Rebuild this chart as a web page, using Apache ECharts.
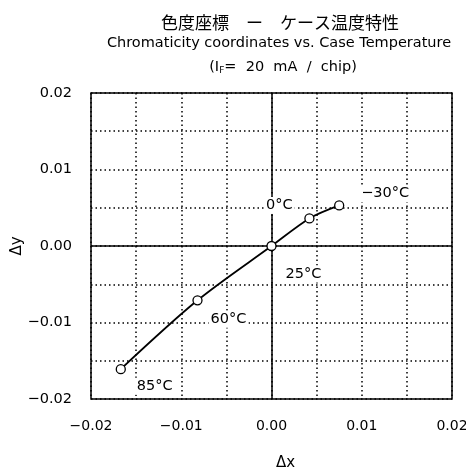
<!DOCTYPE html>
<html><head><meta charset="utf-8">
<script src="https://cdn.jsdelivr.net/npm/echarts@6/dist/echarts.min.js"></script>
<style>html,body{margin:0;padding:0;background:#fff}#c{width:466px;height:474px}</style>
</head><body><div id="c"></div>
<script>
var temps = ['85°C', '60°C', '25°C', '0°C', '−30°C'];
var dx = [-0.0167, -0.0082, 0.0000, 0.0042, 0.0075];
var dy = [-0.0161, -0.0071, 0.0000, 0.0036, 0.0053];
var xTicks = ['−0.02', '−0.01', '0.00', '0.01', '0.02'];
var yTicks = ['−0.02', '−0.01', '0.00', '0.01', '0.02'];

var labelOffsets = [[34, 17], [31, 19], [32, 28], [-30, -13], [46, -12]];
var F = '"DejaVu Sans", sans-serif';

function tickFmt(ticks) {
  return function (v) {
    var k = Math.round(v / 0.01);
    if (Math.abs(v - k * 0.01) > 1e-9) return '';
    return ticks[k + 2];
  };
}

var pts = dx.map(function (x, i) {
  return {
    value: [x, dy[i]],
    label: {
      show: true, formatter: temps[i], position: 'inside',
      offset: labelOffsets[i], color: '#000', fontSize: 14.5, fontFamily: F,
      backgroundColor: '#fff', padding: [1, 2]
    }
  };
});

var chart = echarts.init(document.getElementById('c'));
chart.setOption({
  animation: false,
  title: [
    { text: '色度座標　ー　ケース温度特性', left: 275, top: 9, textAlign: 'center',
      textStyle: { fontSize: 17, fontWeight: 'normal', fontFamily: '"Noto Sans CJK JP", sans-serif', color: '#000' } },
    { text: 'Chromaticity coordinates vs. Case Temperature', left: 274, top: 31, textAlign: 'center',
      textStyle: { fontSize: 14.5, fontWeight: 'normal', fontFamily: F, color: '#000' } },
    { text: '{n|(I}{s|F}{n|=  20  mA  /  chip)}', left: 278, top: 53, textAlign: 'center',
      textStyle: { fontWeight: 'normal', rich: {
        n: { fontSize: 14.5, fontWeight: 'normal', fontFamily: F, color: '#000', lineHeight: 18 },
        s: { fontSize: 9, fontWeight: 'normal', fontFamily: F, color: '#000', lineHeight: 18, padding: [7, 0, 0, 0] }
      } } }
  ],
  grid: { left: 91, right: 14, top: 93, bottom: 75, outerBoundsMode: 'none', containLabel: false,
          show: true, borderColor: '#000', borderWidth: 1.5, backgroundColor: 'transparent' },
  xAxis: {
    type: 'value', min: -0.02, max: 0.02, interval: 0.005,
    name: 'Δx', nameLocation: 'middle', nameGap: 57, nameMoveOverlap: false,
    nameTextStyle: { fontSize: 15, fontFamily: F, color: '#000', padding: [0, 0, 0, 28] },
    axisLine: { show: false }, axisTick: { show: false },
    axisLabel: { formatter: tickFmt(xTicks), fontSize: 14, fontFamily: F, color: '#000', margin: 20 },
    splitLine: { show: true, lineStyle: { color: '#000', type: [1.5, 3], width: 1.5 } }
  },
  yAxis: {
    type: 'value', min: -0.02, max: 0.02, interval: 0.005,
    name: 'Δy', nameLocation: 'middle', nameGap: 66, nameMoveOverlap: false,
    nameTextStyle: { fontSize: 15, fontFamily: F, color: '#000' },
    axisLine: { show: false }, axisTick: { show: false },
    axisLabel: { formatter: tickFmt(yTicks), fontSize: 14.5, fontFamily: F, color: '#000', margin: 19 },
    splitLine: { show: true, lineStyle: { color: '#000', type: [1.5, 3], width: 1.5 } }
  },
  series: [{
    type: 'line', data: pts, smooth: 0.3,
    symbol: 'circle', symbolSize: 9,
    lineStyle: { color: '#000', width: 1.8 },
    itemStyle: { color: '#fff', borderColor: '#000', borderWidth: 1.3 },
    z: 5,
    markLine: {
      silent: true, symbol: 'none', label: { show: false },
      lineStyle: { color: '#000', type: 'solid', width: 1.5 },
      data: [{ xAxis: 0 }, { yAxis: 0 }]
    }
  }]
});
</script></body></html>
